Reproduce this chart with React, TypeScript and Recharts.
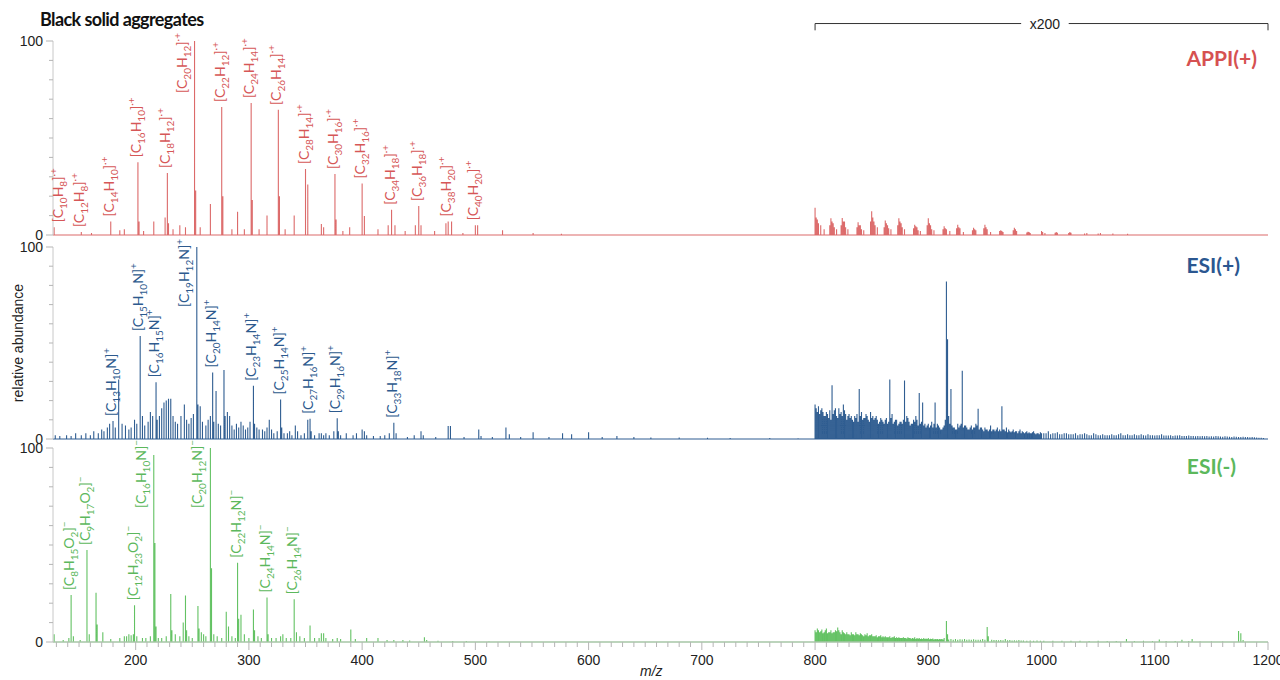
import React from "react";
import { ComposedChart, Line, Scatter, XAxis, YAxis, ReferenceLine, ReferenceDot } from "recharts";

// m/z window and ticks
const MZ_MIN = 127;
const MZ_MAX = 1200;
const xMajorTicks = [200, 300, 400, 500, 600, 700, 800, 900, 1000, 1100, 1200];
const yMajorTicks = [0, 100];

// APPI(+) sticks below m/z 800: [m/z, relative abundance]
const appiPeaks: [number, number][] = [
  [128, 4], [152, 1.5], [161, 1], [178, 7], [186, 2.5], [190, 3], [202, 37.5], [203, 7], [207, 2],
  [216, 7], [226, 9], [228, 32], [229, 6], [233, 3], [239, 5], [244, 4], [252, 100], [253, 23], [257, 4],
  [266, 16], [276, 66], [277, 20], [285, 3], [290, 12], [296, 3], [302, 68], [303, 18], [309, 3],
  [316, 10], [326, 64.5], [327, 20], [332, 3], [340, 10], [350, 34], [352, 26], [364, 5.7], [366, 4],
  [376, 31.5], [377, 8], [383, 2], [389, 4], [400, 26.6], [402, 9.8], [414, 3], [423, 5], [426, 13],
  [429, 5], [438, 2], [447, 5], [450, 15], [452, 5], [464, 2], [474, 6], [476, 7], [479, 7], [489, 1],
  [500, 5], [502, 5], [524, 2.5], [551, 1], [576, 0.7],
];
// APPI(+) sticks above m/z 800, as drawn (x200)
const appiX200Peaks: [number, number][] = [
  [800, 14], [801, 9], [802, 8], [803, 6], [805, 5], [808, 3], [813, 5], [814, 8.6], [815, 7], [816, 6],
  [817, 4], [819, 3], [823, 5], [824, 8.8], [825, 7], [826, 7], [827, 4], [829, 3], [837, 4], [838, 6.6],
  [839, 5], [840, 5], [841, 3], [843, 2.5], [849, 7], [850, 12.3], [851, 9], [852, 7], [853, 5], [855, 4],
  [861, 4], [862, 7.5], [863, 6], [864, 5], [865, 3.5], [867, 3], [873, 5], [874, 8.6], [875, 7], [876, 6],
  [877, 4], [879, 3], [887, 3.5], [888, 5.3], [889, 4.5], [890, 4], [891, 2.5], [893, 2], [899, 5],
  [900, 8.6], [901, 6], [902, 5], [903, 3], [905, 2.5], [913, 3], [914, 4.5], [915, 3.5], [916, 3],
  [919, 2], [925, 3.5], [926, 5.3], [927, 4], [928, 3.5], [931, 1.5], [939, 2.5], [940, 3.8], [941, 3],
  [942, 2.5], [949, 3.5], [950, 5.3], [951, 4], [952, 3], [955, 1.5], [963, 2], [964, 2.5], [965, 2],
  [966, 1.5], [975, 2.5], [976, 3.8], [977, 3], [978, 2], [987, 1.3], [988, 1.7], [989, 1.5], [990, 1],
  [1000, 2], [1001, 1.5], [1003, 1], [1012, 1.2], [1013, 1.5], [1014, 1.2], [1024, 1], [1025, 1.5],
  [1026, 1.2], [1038, 0.8], [1040, 1], [1050, 0.8], [1052, 1], [1063, 0.8], [1076, 0.7],
];
const appiLabels: [number, string][] = [
  [128, "[C10H8]·+"], [152, "[C12H8]·+"], [178, "[C14H10]·+"], [202, "[C16H10]·+"], [228, "[C18H12]·+"],
  [252, "[C20H12]·+"], [276, "[C22H12]·+"], [302, "[C24H14]·+"], [326, "[C26H14]·+"], [350, "[C28H14]·+"],
  [376, "[C30H16]·+"], [400, "[C32H16]·+"], [426, "[C34H18]·+"], [450, "[C36H18]·+"], [476, "[C38H20]·+"],
  [500, "[C40H20]·+"],
];

// ESI(+)
const esiPosPeaks: [number, number][] = [
  [129, 2], [133, 1.5], [139, 2], [143, 1.5], [147, 3], [152, 2], [156, 3], [160, 2], [163, 4], [167, 3],
  [170, 5], [172, 4], [175, 6], [177, 8], [180, 9.4], [182, 6], [185, 31], [188, 8], [191, 7], [194, 5],
  [196, 6], [199, 10], [201, 8], [204, 53.6], [206, 12], [208, 7], [211, 9], [213, 14], [215, 12],
  [218, 29.5], [219, 10], [221, 12], [223, 16], [225, 19], [227, 20], [229, 21], [231, 21], [233, 12],
  [235, 9], [237, 8], [240, 12], [243, 18], [245, 10], [247, 8], [249, 11], [251, 13], [254, 100],
  [255, 18], [257, 17], [259, 9], [262, 7], [264, 10], [266, 12], [268, 34.7], [269, 9], [271, 25],
  [273, 8], [275, 7], [278, 36], [279, 12], [281, 14], [283, 12], [285, 7], [287, 5], [289, 8], [291, 6],
  [293, 9], [295, 7], [297, 5], [299, 6], [301, 9], [304, 27.7], [305, 8], [307, 6], [309, 5], [312, 5],
  [314, 4], [316, 6], [318, 10], [320, 5], [322, 3], [325, 4], [328, 20.6], [329, 6], [331, 3], [334, 3],
  [336, 4], [338, 2], [341, 7], [343, 4], [346, 2], [349, 3], [352, 10], [354, 10.5], [355, 4], [358, 2],
  [362, 3], [364, 3], [366, 2], [368, 3], [371, 2], [375, 4], [378, 10.8], [379, 4], [381, 2], [386, 3],
  [392, 2], [395, 3], [400, 5], [402, 4], [404, 2], [410, 1.5], [416, 1.5], [420, 2], [424, 3], [428, 8.5],
  [430, 3], [440, 1], [446, 2], [452, 4], [454, 2], [465, 1], [476, 6.8], [478, 6.8], [490, 1], [503, 5],
  [505, 1.5], [515, 1], [527, 6], [530, 2.5], [540, 1], [551, 3.5], [565, 1], [577, 3], [585, 2.5],
  [600, 3.5], [612, 1], [625, 1.5], [640, 1], [655, 0.8], [680, 0.8], [705, 0.6], [725, 0.5], [760, 0.5],
  [785, 0.4],
];
const esiPosX200Peaks: [number, number][] = [
  [800, 18], [801, 16], [802, 14], [803, 17], [804, 13], [805, 15], [806, 16], [807, 14], [808, 12],
  [809, 12], [810, 14], [811, 13], [812, 11], [813, 15], [814, 10], [815, 28], [816, 13], [817, 15],
  [818, 16], [819, 12], [820, 11], [821, 16], [822, 13], [823, 14], [824, 12], [825, 18], [826, 15],
  [827, 13], [828, 10], [829, 12], [830, 13], [831, 11], [832, 12], [833, 10], [834, 9], [835, 12],
  [836, 11], [837, 13], [838, 9], [839, 26], [840, 12], [841, 14], [842, 10], [843, 11], [844, 11],
  [845, 13], [846, 12], [847, 10], [848, 9], [849, 14], [850, 11], [851, 12], [852, 10], [853, 11],
  [854, 12], [855, 10], [856, 8], [857, 9], [858, 11], [859, 10], [860, 9], [861, 8], [862, 10], [863, 11],
  [864, 8], [865, 9], [866, 31], [867, 11], [868, 13], [869, 8], [870, 9], [871, 10], [872, 10], [873, 7],
  [874, 8], [875, 9], [876, 9], [877, 8], [878, 10], [879, 30.5], [880, 9], [881, 12], [882, 11], [883, 9],
  [884, 7], [885, 8], [886, 8], [887, 10], [888, 9], [889, 12], [890, 10], [891, 7], [892, 24], [893, 8],
  [894, 9], [895, 19], [896, 7], [897, 8], [898, 6], [899, 7], [900, 8], [901, 6], [902, 7], [903, 9],
  [904, 6], [905, 8], [906, 19], [907, 6], [908, 8], [909, 7], [910, 6], [911, 5], [912, 5], [913, 6],
  [914, 7], [915, 10], [916, 82], [917, 52], [918, 12], [919, 8], [920, 26], [921, 7], [922, 6], [923, 6],
  [924, 5], [925, 5], [926, 8], [927, 6], [928, 7], [929, 8], [930, 35.5], [931, 6], [932, 7], [933, 7],
  [934, 6], [935, 5], [936, 5], [937, 6], [938, 7], [939, 5], [940, 6], [941, 6], [942, 8], [943, 7],
  [944, 15.7], [945, 5], [946, 6], [947, 6], [948, 5], [949, 4], [950, 6], [951, 5], [952, 5], [953, 4],
  [954, 5], [955, 7], [956, 4], [957, 5], [958, 5], [959, 4], [960, 5], [961, 6], [962, 4], [963, 5],
  [964, 4], [965, 17], [966, 5], [967, 5], [968, 4], [969, 6], [970, 3.5], [971, 5], [972, 4], [973, 3.5],
  [974, 4], [975, 5], [976, 3.5], [977, 4], [978, 4], [979, 3], [980, 4], [981, 5], [982, 3], [983, 4],
  [984, 3.5], [985, 3], [986, 3.5], [987, 4], [988, 3], [989, 3.5], [990, 3], [991, 3], [992, 3.5],
  [993, 4], [994, 3], [995, 2.5], [996, 3], [997, 3], [998, 2.5], [999, 3.5], [1000, 3], [1002, 3],
  [1004, 3], [1006, 4], [1008, 2.5], [1010, 3], [1012, 3], [1014, 3.5], [1016, 2.5], [1018, 2.5],
  [1020, 3], [1022, 3], [1024, 2.5], [1026, 2.5], [1028, 2.5], [1030, 3], [1032, 2], [1034, 2.5],
  [1036, 2.5], [1038, 3], [1040, 2.5], [1042, 2], [1044, 2], [1046, 3], [1048, 2.5], [1050, 2], [1052, 2],
  [1054, 2.5], [1056, 2], [1058, 2], [1060, 2], [1062, 2.5], [1064, 2], [1066, 2], [1068, 2.5], [1070, 3],
  [1072, 2], [1074, 2], [1076, 2.5], [1078, 2], [1080, 2], [1082, 2.5], [1084, 2], [1086, 2], [1088, 2.5],
  [1090, 2], [1092, 1.8], [1094, 2.5], [1096, 2], [1098, 2], [1100, 1.8], [1102, 2], [1104, 2],
  [1106, 2.5], [1108, 1.8], [1110, 1.8], [1112, 1.8], [1114, 2], [1116, 1.6], [1118, 1.8], [1120, 1.8],
  [1122, 2], [1124, 1.5], [1126, 1.6], [1128, 1.6], [1130, 1.8], [1132, 1.5], [1134, 1.5], [1136, 1.4],
  [1138, 1.6], [1140, 1.4], [1142, 1.5], [1144, 1.4], [1146, 1.5], [1148, 1.3], [1150, 1.4], [1152, 1.3],
  [1154, 1.5], [1156, 1.4], [1158, 1.3], [1160, 1.2], [1162, 1.4], [1164, 1.3], [1166, 1.2], [1168, 1.1],
  [1170, 1.3], [1172, 1.2], [1174, 1.1], [1176, 1], [1178, 1.2], [1180, 1.1], [1182, 1], [1184, 0.9],
  [1186, 1], [1188, 0.9], [1190, 0.8], [1192, 0.7], [1194, 0.6], [1196, 0.5],
];
const esiPosLabels: [number, string][] = [
  [180, "[C13H10N]+"], [204, "[C15H10N]+"], [218, "[C16H15N]+"], [254, "[C19H12N]+"], [268, "[C20H14N]+"],
  [304, "[C23H14N]+"], [328, "[C25H14N]+"], [354, "[C27H16N]+"], [378, "[C29H16N]+"], [428, "[C33H18N]+"],
];

// ESI(-)
const esiNegPeaks: [number, number][] = [
  [128, 4], [136, 1], [141, 2], [143, 24.2], [145, 3], [151, 1], [157, 47.4], [159, 4], [165, 25.4],
  [166, 9], [171, 5], [178, 1.5], [186, 2], [190, 3], [192, 3], [194, 4], [196, 3.5], [198, 4], [199, 19],
  [201, 3], [206, 2], [209, 2], [213, 3], [216, 96.4], [217, 51], [218, 8], [220, 2], [223, 2], [227, 3],
  [231, 24.7], [232, 6], [235, 4], [239, 3], [242, 10], [244, 24], [245, 6], [247, 3], [250, 2],
  [255, 18.6], [256, 7], [258, 5], [260, 4], [262, 3], [266, 100], [267, 38], [269, 4], [272, 3], [276, 2],
  [280, 15.6], [282, 8], [285, 3], [288, 2], [290, 40.9], [291, 12], [293, 14], [296, 4], [300, 2],
  [304, 16.8], [305, 6], [308, 3], [311, 2], [316, 23], [317, 4], [320, 2], [324, 2], [328, 3], [330, 4],
  [333, 2], [337, 2], [340, 22], [342, 5], [345, 3], [349, 2], [354, 8.5], [358, 2], [362, 2], [364, 4.5],
  [366, 4.5], [368, 2], [374, 1.5], [378, 2], [381, 1.5], [390, 6.5], [394, 1.5], [404, 2], [414, 2],
  [422, 1], [428, 1], [436, 1], [442, 0.8], [455, 2.5], [457, 1], [467, 0.6], [480, 0.5], [492, 0.5],
  [512, 0.4],
];
const esiNegX200Peaks: [number, number][] = [
  [800, 6], [801, 5], [802, 7], [803, 6], [804, 5], [805, 5.5], [806, 6.5], [807, 4.5], [808, 5], [809, 6],
  [810, 7], [811, 4.5], [812, 5], [813, 5], [814, 6], [815, 4.5], [816, 5], [817, 5], [818, 6], [819, 5.5],
  [820, 7.5], [821, 6], [822, 5], [823, 4], [824, 6], [825, 5], [826, 4.5], [827, 4], [828, 5], [829, 4],
  [830, 4], [831, 3.5], [832, 5], [833, 4], [834, 4], [835, 3.5], [836, 5], [837, 4], [838, 4], [839, 3.5],
  [840, 4.5], [841, 4], [842, 3.5], [843, 3], [844, 4], [845, 3.5], [846, 4.5], [847, 3], [848, 3.5],
  [849, 3.5], [850, 4], [851, 3], [852, 3], [853, 3], [854, 3.5], [855, 2.5], [856, 3], [857, 3],
  [858, 3.5], [859, 2.5], [860, 3], [861, 2.5], [862, 3], [863, 2.5], [864, 2.5], [865, 2.5], [866, 3],
  [867, 2], [868, 2.5], [869, 2.5], [870, 3], [871, 2], [872, 2.5], [873, 2], [874, 2.5], [875, 2],
  [876, 2], [877, 2], [878, 2.5], [879, 2], [880, 2], [881, 1.8], [882, 2.5], [883, 2], [884, 2],
  [885, 1.7], [886, 2], [887, 1.8], [888, 2.5], [889, 1.6], [890, 2], [891, 1.7], [892, 2], [893, 1.5],
  [894, 1.8], [895, 1.6], [896, 2], [897, 1.5], [898, 1.8], [899, 1.5], [900, 2], [901, 1.4], [902, 1.7],
  [903, 1.5], [904, 1.8], [905, 1.3], [906, 1.5], [907, 1.4], [908, 1.6], [909, 1.3], [910, 1.5],
  [911, 1.4], [912, 1.6], [913, 1.3], [914, 2], [916, 10.8], [917, 4], [918, 1.3], [920, 1.5], [922, 1.2],
  [924, 1.5], [926, 1.2], [928, 1.4], [930, 1.3], [932, 1.5], [934, 1.1], [936, 1.3], [938, 1.2],
  [940, 1.4], [942, 1.1], [944, 1.2], [946, 1.1], [948, 1.5], [950, 1.2], [952, 7.7], [953, 3], [956, 1.2],
  [958, 1], [960, 1], [962, 0.9], [964, 1], [966, 0.9], [968, 1.5], [970, 0.9], [972, 1], [974, 0.8],
  [976, 0.9], [978, 0.8], [980, 1], [982, 0.8], [984, 0.8], [987, 0.7], [990, 0.8], [993, 0.7], [996, 0.8],
  [999, 0.6], [1002, 0.7], [1010, 0.7], [1018, 0.6], [1026, 0.6], [1034, 0.7], [1042, 0.5], [1050, 0.6],
  [1058, 0.5], [1066, 0.5], [1075, 1.5], [1082, 0.5], [1090, 0.6], [1098, 0.5], [1104, 1.3], [1110, 0.5],
  [1118, 0.5], [1124, 1.2], [1130, 0.5], [1133, 1.5], [1140, 0.4], [1150, 0.4], [1160, 0.4], [1174, 5.7],
  [1176, 4.5], [1178, 1], [1185, 0.3],
];
const esiNegLabels: [number, string][] = [
  [143, "[C8H15O2]−"], [157, "[C9H17O2]−"], [199, "[C12H23O2]−"], [216, "[C16H10N]−"], [266, "[C20H12N]−"],
  [290, "[C22H12N]−"], [316, "[C24H14N]−"], [340, "[C26H14N]−"],
];

const PLOT_LEFT = 53;
const X_AXIS_H = 30;
const SANS = "'Liberation Sans', Arial, sans-serif";
const LABEL_FONT = "Lato, 'Open Sans', sans-serif";

const xTicks: number[] = [];
for (let m = 130; m <= MZ_MAX; m += 10) xTicks.push(m);
const yTicks: number[] = [];
for (let v = 0; v <= 100; v += 10) yTicks.push(v);

type Peak = [number, number];

function toSticks(peaks: Peak[]) {
  const sorted = [...peaks].sort((a, b) => a[0] - b[0]);
  const pts: { mz: number; y: number }[] = [{ mz: MZ_MIN, y: 0 }];
  sorted.forEach(([mz, v]) => pts.push({ mz, y: 0 }, { mz, y: v }, { mz, y: 0 }));
  pts.push({ mz: MZ_MAX, y: 0 });
  return pts;
}

function toLabelPoints(labels: [number, string][], peaks: Peak[]) {
  return labels.map(([mz, text]) => {
    const hit = peaks.find((p) => p[0] === mz);
    return { mz, y: hit ? hit[1] : 0, text };
  });
}

// split "[C20H12]·+" into normal / subscript / superscript parts
function parseFormula(s: string) {
  const close = s.indexOf("]");
  const body = s.slice(0, close + 1);
  const charge = s.slice(close + 1);
  const segs: { text: string; kind: "n" | "sub" | "sup" }[] = [];
  let buf = "";
  let isSub = false;
  for (const ch of body) {
    const d = ch >= "0" && ch <= "9";
    if (d !== isSub && buf) {
      segs.push({ text: buf, kind: isSub ? "sub" : "n" });
      buf = "";
    }
    isSub = d;
    buf += ch;
  }
  if (buf) segs.push({ text: buf, kind: isSub ? "sub" : "n" });
  if (charge) segs.push({ text: charge, kind: "sup" });
  return segs;
}

function FormulaLabel(props: any) {
  const { cx, cy, payload, color, plotH } = props;
  const v = payload.y;
  const tall = v >= 90;
  const top = cy - ((100 - v) / 100) * plotH;
  const x = tall ? cx - 8 : Math.max(cx + 3, PLOT_LEFT + 10);
  const y = tall ? top - 8 : cy - 5;
  let shift = 0;
  return (
    <text
      x={x}
      y={y}
      transform={`rotate(-90 ${x} ${y})`}
      textAnchor={tall ? "end" : "start"}
      fill={color}
      fontSize={14}
      fontFamily={LABEL_FONT}
    >
      {parseFormula(payload.text).map((s, i) => {
        const target = s.kind === "sub" ? 4 : s.kind === "sup" ? -6 : 0;
        const dy = target - shift;
        shift = target;
        return (
          <tspan key={i} dy={dy} fontSize={s.kind === "n" ? 14 : 10}>
            {s.text}
          </tspan>
        );
      })}
    </text>
  );
}

const YTick = (props: any) => {
  const { x, y, payload } = props;
  const major = yMajorTicks.includes(payload.value);
  return (
    <g>
      <line x1={x - (major ? 7 : 4)} x2={x} y1={y} y2={y} stroke="#b5b5b5" />
      {major && (
        <text x={x - 10} y={y} dy={5} textAnchor="end" fontSize={14} fontFamily={SANS} fill="#222">
          {payload.value}
        </text>
      )}
    </g>
  );
};

const XTick = (props: any) => {
  const { x, y, payload } = props;
  const major = xMajorTicks.includes(payload.value);
  return (
    <g>
      <line x1={x} x2={x} y1={y} y2={y + (major ? 8 : 5)} stroke="#b5b5b5" />
      {major && (
        <text x={x} y={y + 23} textAnchor="middle" fontSize={14} fontFamily={SANS} fill="#222">
          {payload.value}
        </text>
      )}
    </g>
  );
};

interface PanelProps {
  top: number;
  height: number;
  marginTop: number;
  marginBottom: number;
  peaks: Peak[];
  x200: Peak[];
  labels: [number, string][];
  color: string;
  labelColor: string;
  showX?: boolean;
  bracket?: boolean;
}

function Panel({ top, height, marginTop, marginBottom, peaks, x200, labels, color, labelColor, showX, bracket }: PanelProps) {
  const plotH = height - marginTop - marginBottom - (showX ? X_AXIS_H : 0);
  const sticks = toSticks([...peaks, ...x200]);
  const labelPoints = toLabelPoints(labels, peaks);
  return (
    <div style={{ position: "absolute", left: 0, top, width: 1280, height }}>
      <ComposedChart width={1280} height={height} margin={{ top: marginTop, right: 12, bottom: marginBottom, left: 0 }}>
        <XAxis
          type="number"
          dataKey="mz"
          domain={[MZ_MIN, MZ_MAX]}
          hide={!showX}
          ticks={xTicks}
          interval={0}
          tick={(p: any) => <XTick {...p} />}
          tickSize={0}
          tickMargin={0}
          tickLine={false}
          height={X_AXIS_H}
          axisLine={{ stroke: "#c8c8c8" }}
        />
        <YAxis
          type="number"
          domain={[0, 100]}
          ticks={yTicks}
          interval={0}
          tick={(p: any) => <YTick {...p} />}
          tickSize={0}
          tickMargin={0}
          tickLine={false}
          width={PLOT_LEFT}
          axisLine={{ stroke: "#c8c8c8" }}
        />
        <Line data={sticks} dataKey="y" type="linear" stroke={color} strokeWidth={1.1} dot={false} isAnimationActive={false} />
        <Scatter
          data={labelPoints}
          dataKey="y"
          isAnimationActive={false}
          shape={(p: any) => <FormulaLabel {...p} color={labelColor} plotH={plotH} />}
        />
        {bracket && (
          <>
            <ReferenceLine segment={[{ x: 800, y: 109 }, { x: 982, y: 109 }]} stroke="#333" ifOverflow="visible" />
            <ReferenceLine segment={[{ x: 1024, y: 109 }, { x: 1200, y: 109 }]} stroke="#333" ifOverflow="visible" />
            <ReferenceLine segment={[{ x: 800, y: 109 }, { x: 800, y: 105.5 }]} stroke="#333" ifOverflow="visible" />
            <ReferenceLine segment={[{ x: 1200, y: 109 }, { x: 1200, y: 105.5 }]} stroke="#333" ifOverflow="visible" />
            <ReferenceDot
              x={1003}
              y={109}
              ifOverflow="visible"
              shape={(p: any) => (
                <text x={p.cx} y={p.cy} dy={5} textAnchor="middle" fontSize={14} fontFamily={SANS} fill="#222">
                  x200
                </text>
              )}
            />
          </>
        )}
      </ComposedChart>
    </div>
  );
}

const nameStyle: React.CSSProperties = {
  position: "absolute",
  fontFamily: LABEL_FONT,
  fontWeight: 700,
  fontSize: 21,
  lineHeight: 1,
};

export default function App() {
  return (
    <div style={{ position: "absolute", left: 0, top: 0, width: 1280, height: 680, background: "#fff", overflow: "hidden" }}>
      <style>{`svg.recharts-surface{overflow:visible}`}</style>
      <Panel top={0} height={245} marginTop={41} marginBottom={10} peaks={appiPeaks} x200={appiX200Peaks}
        labels={appiLabels} color="#dc6a6a" labelColor="#d65757" bracket />
      <Panel top={240} height={210} marginTop={7} marginBottom={11} peaks={esiPosPeaks} x200={esiPosX200Peaks}
        labels={esiPosLabels} color="#2f5d91" labelColor="#2d5a8e" />
      <Panel top={440} height={240} marginTop={8} marginBottom={8} peaks={esiNegPeaks} x200={esiNegX200Peaks}
        labels={esiNegLabels} color="#63c263" labelColor="#5cb85c" showX />

      <div style={{ position: "absolute", left: 40, top: 8, fontFamily: LABEL_FONT, fontWeight: 700, fontSize: 18, letterSpacing: -0.6, color: "#111" }}>
        Black solid aggregates
      </div>
      <div style={{ ...nameStyle, right: 23, top: 47, color: "#d65151" }}>APPI(+)</div>
      <div style={{ ...nameStyle, right: 40, top: 254, color: "#2b5790" }}>ESI(+)</div>
      <div style={{ ...nameStyle, right: 44, top: 455, color: "#5cb85c" }}>ESI(-)</div>
      <div
        style={{
          position: "absolute", left: 18, top: 343, transform: "translate(-50%, -50%) rotate(-90deg)",
          fontFamily: SANS, fontSize: 14, color: "#222", whiteSpace: "nowrap",
        }}
      >
        relative abundance
      </div>
      <div style={{ position: "absolute", left: 640, top: 663, fontFamily: SANS, fontStyle: "italic", fontSize: 14, color: "#222" }}>
        m/z
      </div>
    </div>
  );
}
